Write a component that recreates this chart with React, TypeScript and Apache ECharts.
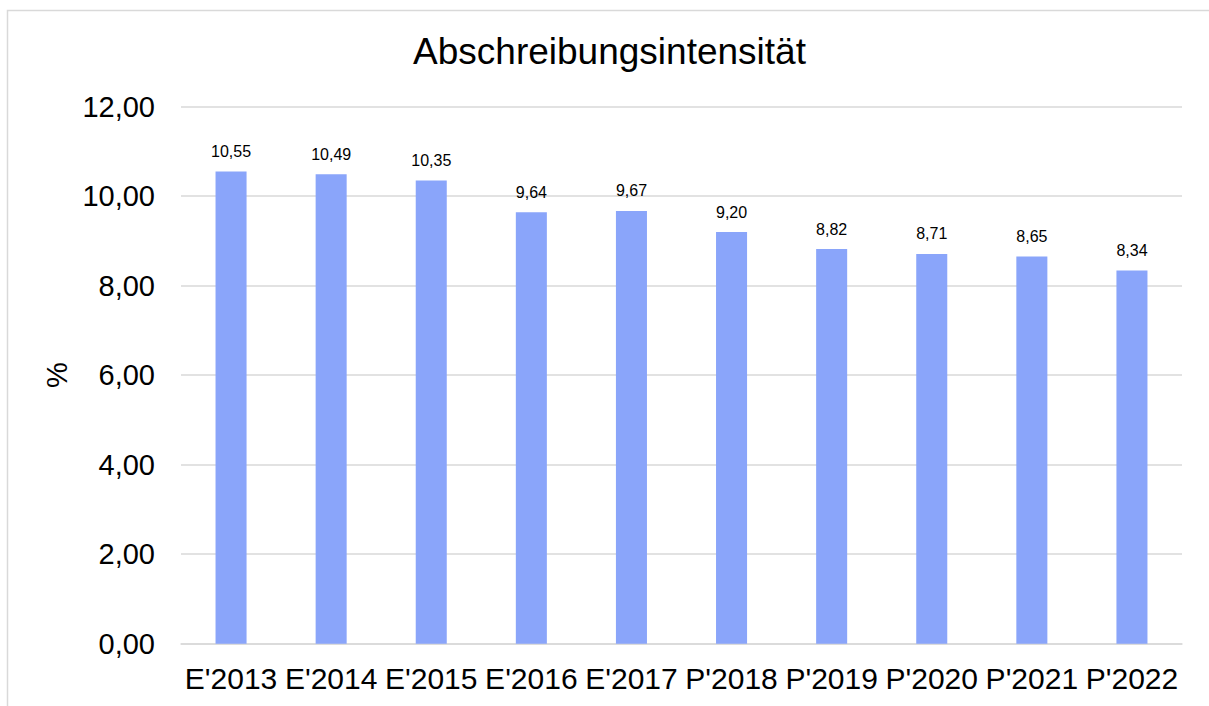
import React, { useEffect, useRef } from "react";
import * as echarts from "echarts";

const categories = ["E'2013", "E'2014", "E'2015", "E'2016", "E'2017", "P'2018", "P'2019", "P'2020", "P'2021", "P'2022"];
const values = [10.55, 10.49, 10.35, 9.64, 9.67, 9.2, 8.82, 8.71, 8.65, 8.34];
const titleText = "Abschreibungsintensität";
const yAxisName = "%";

const fmt = (v: number) => v.toFixed(2).replace(".", ",");

export default function App() {
  const ref = useRef<HTMLDivElement>(null);
  useEffect(() => {
    if (!ref.current) return;
    const chart = echarts.init(ref.current, null, { renderer: "svg" });
    chart.setOption({
      animation: false,
      backgroundColor: "#ffffff",
      textStyle: { fontFamily: "Liberation Sans, Arial, sans-serif" },
      graphic: [
        {
          type: "rect",
          shape: { x: 7.5, y: 10.5, width: 1400, height: 1000 },
          style: { fill: "none", stroke: "#d9d9d9", lineWidth: 1.5 },
          silent: true,
        },
        {
          type: "text",
          x: 609.5,
          y: 33,
          style: {
            text: titleText,
            fontSize: 37,
            fontFamily: "Liberation Sans, Arial, sans-serif",
            fill: "#000000",
            textAlign: "center",
            textVerticalAlign: "top",
          },
        },
      ],
      grid: { left: 181, right: 27, top: 106.7, bottom: 62.3, containLabel: false },
      xAxis: {
        type: "category",
        data: categories,
        axisTick: { show: false },
        axisLine: { show: true, lineStyle: { color: "#d9d9d9", width: 1.5 } },
        axisLabel: { color: "#000000", fontSize: 30, margin: 20, interval: 0 },
      },
      yAxis: {
        type: "value",
        min: 0,
        max: 12,
        interval: 2,
        name: yAxisName,
        nameLocation: "middle",
        nameGap: 110,
        nameRotate: 90,
        nameTextStyle: { color: "#000000", fontSize: 29 },
        axisLine: { show: false },
        axisTick: { show: false },
        splitLine: { lineStyle: { color: "#d9d9d9", width: 1.5 } },
        axisLabel: { color: "#000000", fontSize: 29, margin: 26, formatter: (v: number) => fmt(v) },
      },
      series: [
        {
          type: "bar",
          data: values,
          barWidth: "31%",
          itemStyle: { color: "#8aa5fa" },
          label: {
            show: true,
            position: "top",
            distance: 12,
            color: "#000000",
            fontSize: 16,
            formatter: (p: any) => fmt(p.value),
          },
        },
      ],
    });
    return () => chart.dispose();
  }, []);
  return (
    <div
      ref={ref}
      style={{ position: "fixed", left: 0, top: 0, width: 1209, height: 706, background: "#fff" }}
    />
  );
}
